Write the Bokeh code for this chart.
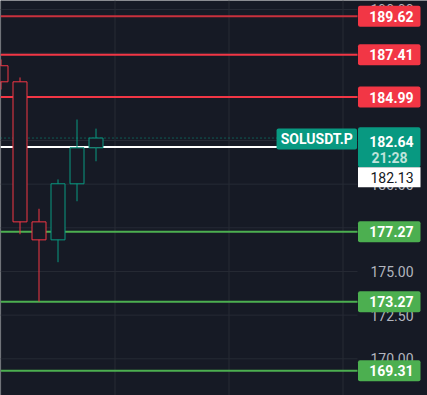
from bokeh.plotting import figure
from bokeh.models import Range1d
from bokeh.embed import file_html
from bokeh.resources import INLINE
from bokeh.core.properties import value

# ---------------- data ----------------
open_ = [186.78, 185.86, 177.84, 176.81, 180.02, 182.08]
high = [187.14, 186.11, 178.59, 180.27, 183.70, 183.18]
low = [185.42, 177.13, 173.27, 175.53, 179.02, 181.31]
close = [185.86, 177.84, 176.81, 180.02, 182.08, 182.64]

resistance = [189.62, 187.41, 184.99]
support = [177.27, 173.27, 169.31]

tick_values = [170.0, 172.5, 175.0, 177.5, 180.0, 182.5, 185.0, 187.5, 190.0]
tick_labels = ["170.00", "172.50", "175.00", "177.50", "180.00", "182.50", "185.00", "187.50", "190.00"]

symbol = "SOLUSDT.P"
last_price = 182.64
countdown = "21:28"
marked_price = 182.13

# ---------------- style / layout ----------------
W, H = 427, 395
BG = "#161a25"
GRID = "#262a35"
RED = "#f23645"
RED_DIM = "#c9313d"
GREEN = "#4caf50"
TEAL = "#089981"
AXIS_TXT = "#b2b5be"
FONT = value("Roboto")

BAR_PX = 19.0
X0 = 0.5
Y_TOP, Y_BOT = 190.516, 167.897
PXU = H / (Y_TOP - Y_BOT)
AXIS_PX = 357.0
LBL_L, LBL_R = 357.5, 420.0
LBL_TXT_R = 413.0


def xd(px):
    return (px - X0) / BAR_PX


def dy(px):
    return px / PXU


XS, XE = xd(0), xd(W)

p = figure(width=W, height=H, x_range=Range1d(XS, XE), y_range=Range1d(Y_BOT, Y_TOP),
           output_backend="svg", toolbar_location=None, x_axis_type=None, y_axis_type=None,
           min_border=0, background_fill_color=BG, border_fill_color=BG, outline_line_color=None)

# grid
p.segment(x0=[XS] * len(tick_values), x1=[xd(AXIS_PX)] * len(tick_values), y0=tick_values, y1=tick_values,
          line_color=GRID, line_width=1)
vgrid = list(range(0, 24, 6))
p.segment(x0=vgrid, x1=vgrid, y0=[Y_BOT] * len(vgrid), y1=[Y_TOP] * len(vgrid), line_color=GRID, line_width=1)

# axis tick labels (drawn under label boxes)
p.text(x=[xd(LBL_TXT_R)] * len(tick_values), y=tick_values, text=tick_labels, text_align="right",
       text_baseline="middle", text_color=AXIS_TXT, text_font=FONT, text_font_size="14px")

# level lines
rcols = [RED_DIM] + [RED] * (len(resistance) - 1)
p.segment(x0=[XS] * len(resistance), x1=[xd(AXIS_PX)] * len(resistance), y0=resistance, y1=resistance,
          line_color=rcols, line_width=2)
p.segment(x0=[XS] * len(support), x1=[xd(AXIS_PX)] * len(support), y0=support, y1=support,
          line_color=GREEN, line_width=2)

# marked price line and last price dotted line
p.segment(x0=[XS], x1=[xd(277)], y0=[marked_price], y1=[marked_price], line_color="white", line_width=2)
p.segment(x0=[XS], x1=[xd(277)], y0=[last_price], y1=[last_price], line_color=TEAL, line_width=1,
          line_dash="1 3")

# candles
idx = list(range(len(open_)))
ccol = [TEAL if c >= o else RED for o, c in zip(open_, close)]
p.segment(x0=idx, x1=idx, y0=low, y1=high, line_color=ccol, line_width=1)
hw = 7.0 / BAR_PX
p.quad(left=[i - hw for i in idx], right=[i + hw for i in idx],
       top=[max(o, c) for o, c in zip(open_, close)], bottom=[min(o, c) for o, c in zip(open_, close)],
       fill_color=BG, line_color=ccol, line_width=1)

# level label boxes
levels = resistance + support
lcols = [RED] * len(resistance) + [GREEN] * len(support)
lbl_text = ["%.2f" % v for v in levels]
p.rect(x=[xd((LBL_L + LBL_R) / 2)] * len(levels), y=levels, width=LBL_R - LBL_L, height=21,
       width_units="screen", height_units="screen", fill_color=lcols, line_color=None, border_radius=2)
p.text(x=[xd(LBL_TXT_R)] * len(levels), y=levels, text=lbl_text, text_align="right", text_baseline="middle",
       text_color="white", text_font=FONT, text_font_size="14px", text_font_style="bold")

# symbol box
p.rect(x=[xd(316.3)], y=[last_price - dy(1)], width=80.5, height=21, width_units="screen", height_units="screen",
       fill_color=TEAL, line_color=None, border_radius=2)
p.text(x=[xd(316.3)], y=[last_price - dy(1)], text=[symbol], text_align="center", text_baseline="middle",
       text_color="white", text_font=FONT, text_font_size="14px", text_font_style="bold")

# last price / countdown box and marked price box
p.quad(left=[xd(LBL_L)], right=[xd(LBL_R)], top=[last_price + dy(10.8)], bottom=[last_price - dy(29.2)],
       fill_color=TEAL, line_color=None, border_radius=2)
p.quad(left=[xd(LBL_L)], right=[xd(LBL_R)], top=[last_price - dy(29.2)], bottom=[last_price - dy(49.2)],
       fill_color="white", line_color=None)
p.text(x=[xd(LBL_TXT_R)], y=[last_price - dy(3.3)], text=["%.2f" % last_price], text_align="right",
       text_baseline="middle", text_color="white", text_font=FONT, text_font_size="14px", text_font_style="bold")
p.text(x=[xd(LBL_TXT_R) - 6 / BAR_PX], y=[last_price - dy(19.7)], text=[countdown], text_align="right",
       text_baseline="middle", text_color="#bfe3db", text_font=FONT, text_font_size="14px", text_font_style="bold")
p.text(x=[xd(LBL_TXT_R)], y=[last_price - dy(39.7)], text=["%.2f" % marked_price], text_align="right",
       text_baseline="middle", text_color="#131722", text_font=FONT, text_font_size="14px")

open("out.html", "w").write(file_html(p, INLINE))
